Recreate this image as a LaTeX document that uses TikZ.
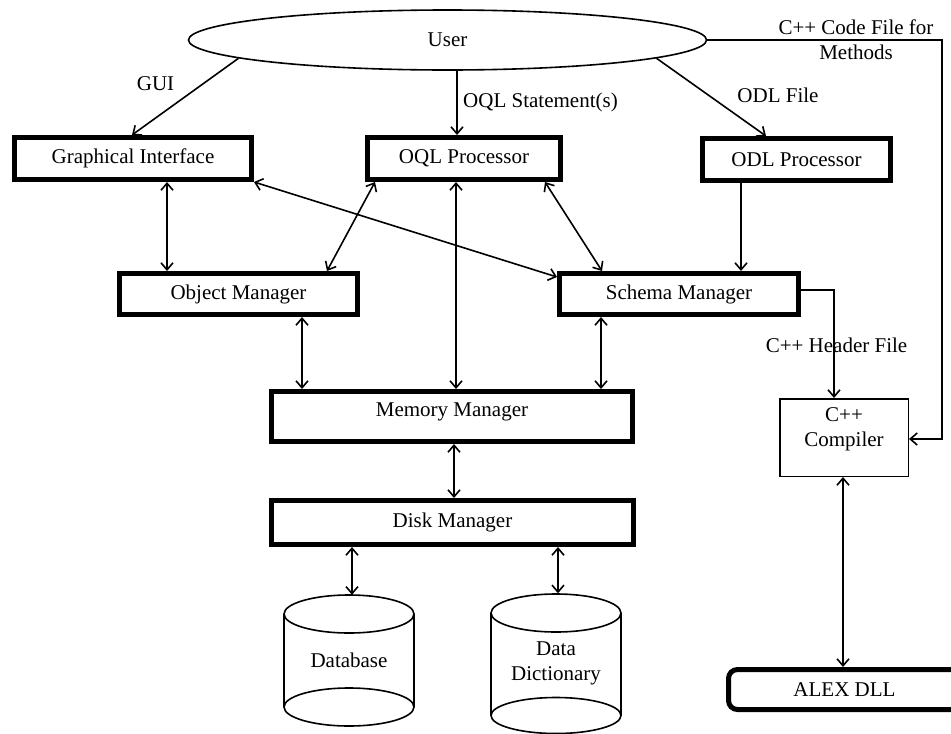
\documentclass[tikz,border=0pt]{standalone}
\usepackage{fontspec}
\setmainfont{Liberation Serif}
\usetikzlibrary{arrows.meta,shapes.geometric}
\begin{document}
\begin{tikzpicture}[x=1pt,y=-1pt,
  font=\fontsize{21}{25.5}\selectfont,
  heavy/.style={draw, line width=5pt, inner sep=0pt},
  thinbox/.style={draw, line width=1.5pt, inner sep=0pt},
  tip/.tip={Straight Barb[length=7pt,width=12pt]},
  conn/.style={line width=1.6pt, -tip},
  biconn/.style={line width=1.6pt, tip-tip},
  drumline/.style={line width=1.6pt},
  lbl/.style={anchor=base, inner sep=0pt}]
\useasboundingbox (0,0) rectangle (951,734);

% user
\node[ellipse, draw, line width=1.6pt, minimum width=518pt, minimum height=60pt, inner sep=0pt]
  (user) at (447.5,40) {User};

% processors
\node[heavy, minimum width=237pt, minimum height=42pt] (gi)  at (133,158.5)   {Graphical Interface};
\node[heavy, minimum width=193pt, minimum height=42pt] (oql) at (464,158.5)   {OQL Processor};
\node[heavy, minimum width=188pt, minimum height=42pt] (odl) at (796.5,159.5) {ODL Processor};

% managers
\node[heavy, minimum width=238pt, minimum height=41pt] (om) at (238.5,294) {Object Manager};
\node[heavy, minimum width=239pt, minimum height=41pt] (sm) at (679,294)   {Schema Manager};
\node[heavy, minimum width=361pt, minimum height=50pt, text depth=14pt] (mm) at (452,416.5) {Memory Manager};
\node[heavy, minimum width=362pt, minimum height=44pt] (dm) at (452.5,522.5) {Disk Manager};

% compiler and library
\node[thinbox, minimum width=128.5pt, minimum height=77.5pt, align=center, text depth=21pt]
  (cc) at (844,437.5) {C++\\Compiler};
\node[heavy, rounded corners=9pt, minimum width=232pt, minimum height=40pt]
  (alex) at (844.5,689.5) {ALEX DLL};

% storage drums
\node[minimum width=130pt, minimum height=131pt, inner sep=0pt] (db) at (349,660.5) {Database};
\draw[drumline] (349,614) ellipse [x radius=65, y radius=19];
\draw[drumline] (349,707) ellipse [x radius=65, y radius=19];
\draw[drumline] (284,614) -- (284,707) (414,614) -- (414,707);

\node[minimum width=130pt, minimum height=140pt, inner sep=0pt, align=center] (dd) at (556,663.5) {Data\\Dictionary};
\draw[drumline] (556,613) ellipse [x radius=65, y radius=19];
\draw[drumline] (556,715.5) ellipse [x radius=65, y radius=18];
\draw[drumline] (491,613) -- (491,715.5) (621,613) -- (621,715.5);

% user inputs
\draw[conn] (user.185.75) -- (gi.north -| 132,0);
\node[lbl] at (155.5,90) {GUI};
\draw[conn] (user.south -| 457,0) -- (oql.north -| 457,0);
\node[lbl] at (540.5,107) {OQL Statement(s)};
\draw[conn] (user.355.9) -- (odl.north -| 766,0);
\node[lbl] at (778,102) {ODL File};
\coordinate (codebend) at (942,439);
\draw[conn] (user.east) -| (codebend) -- (codebend -| cc.east);
\node[align=center, inner sep=0pt] at (856,39.5) {C++ Code File for\\Methods};

% processor links
\draw[biconn] (gi.south -| 167,0) -- (om.north -| 167,0);
\draw[biconn] (oql.south -| 375,0) -- (om.north -| 327,0);
\draw[biconn] (gi.south east) -- ([yshift=-6pt]sm.north west);
\draw[biconn] (oql.south -| 456,0) -- (mm.north -| 456,0);
\draw[biconn] (oql.south -| 545,0) -- (sm.north -| 602,0);
\draw[conn] (odl.south -| 741,0) -- (sm.north -| 741,0);

% manager links
\draw[biconn] (om.south -| 302,0) -- (mm.north -| 302,0);
\draw[biconn] (sm.south -| 601,0) -- (mm.north -| 601,0);
\draw[biconn] (mm.south -| 454,0) -- (dm.north -| 454,0);
\draw[biconn] (dm.south -| 352,0) -- (db.north -| 352,0);
\draw[biconn] (dm.south -| 558,0) -- (dd.north -| 558,0);

% header generation and linking
\draw[conn] ([yshift=4pt]sm.east) -| ([xshift=-10pt]cc.north);
\node[lbl] at (836.5,352) {C++ Header File};
\draw[biconn] (cc.south -| 843,0) -- (alex.north -| 843,0);
\end{tikzpicture}
\end{document}
